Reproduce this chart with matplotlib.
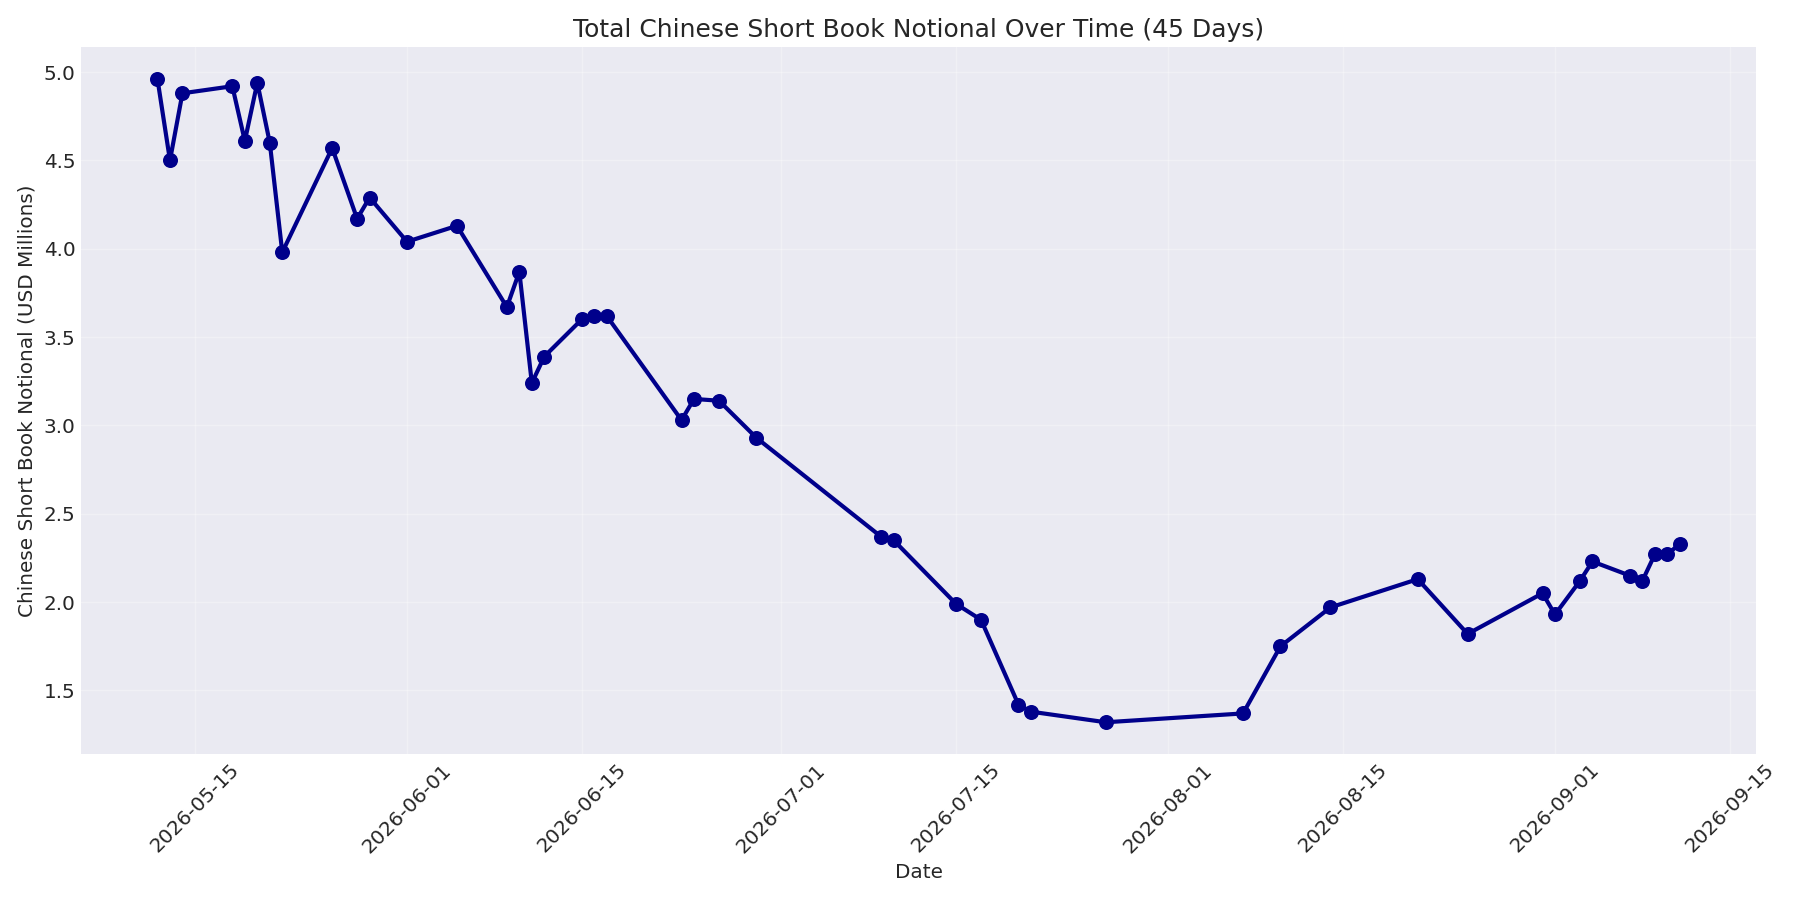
import matplotlib
matplotlib.use("Agg")
import matplotlib.pyplot as plt
import pandas as pd

plt.style.use("seaborn-v0_8-darkgrid")
plt.rcParams['font.family'] = ['DejaVu Sans']

dates = ["2026-05-12","2026-05-13","2026-05-14","2026-05-18","2026-05-19","2026-05-20","2026-05-21","2026-05-22",
         "2026-05-26","2026-05-28","2026-05-29","2026-06-01","2026-06-05","2026-06-09","2026-06-10","2026-06-11",
         "2026-06-12","2026-06-15","2026-06-16","2026-06-17","2026-06-23","2026-06-24","2026-06-26","2026-06-29",
         "2026-07-09","2026-07-10","2026-07-15","2026-07-17","2026-07-20","2026-07-21","2026-07-27","2026-08-07",
         "2026-08-10","2026-08-14","2026-08-21","2026-08-25","2026-08-31","2026-09-01","2026-09-03","2026-09-04",
         "2026-09-07","2026-09-08","2026-09-09","2026-09-10","2026-09-11"]
values = [4.96,4.50,4.88,4.92,4.61,4.94,4.60,3.98,4.57,4.17,4.29,4.04,4.13,3.67,3.87,3.24,3.39,3.60,3.62,3.62,
          3.03,3.15,3.14,2.93,2.37,2.35,1.99,1.90,1.42,1.38,1.32,1.37,1.75,1.97,2.13,1.82,2.05,1.93,2.12,2.23,
          2.15,2.12,2.27,2.27,2.33]

x = pd.to_datetime(dates)
fig, ax = plt.subplots(figsize=(15, 7.5), dpi=120)
ax.plot(x, values, color="darkblue", linewidth=2.5, marker="o", markersize=8)
ax.set_title("Total Chinese Short Book Notional Over Time (45 Days)", fontsize=15)
ax.set_xlabel("Date", fontsize=12)
ax.set_ylabel("Chinese Short Book Notional (USD Millions)", fontsize=12)
ax.tick_params(labelsize=12)
plt.setp(ax.get_xticklabels(), rotation=45)
ax.grid(True, alpha=0.3)
fig.tight_layout()
fig.savefig("out.png")
